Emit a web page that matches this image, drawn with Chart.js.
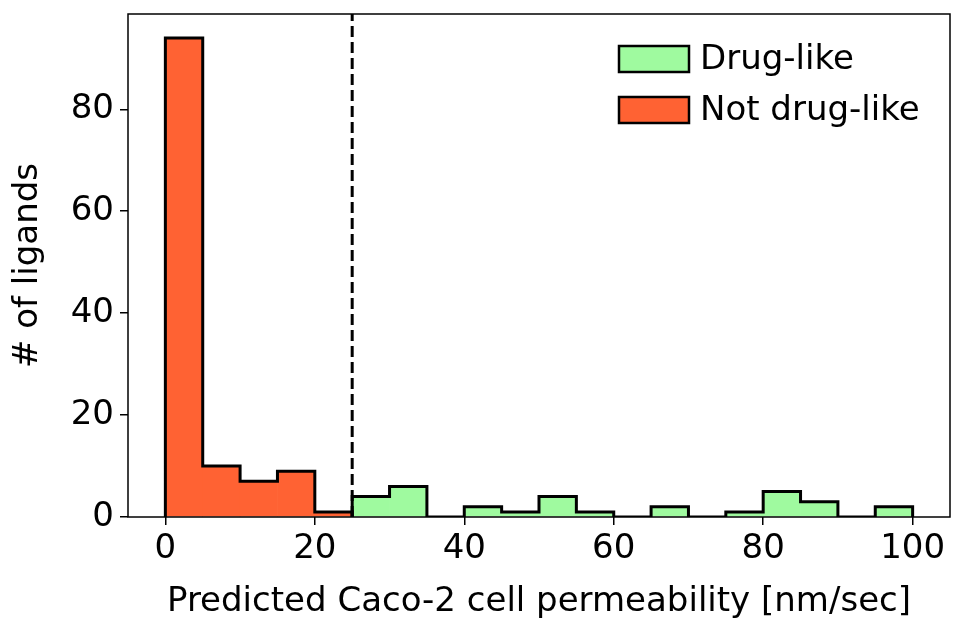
<!DOCTYPE html>
<html>
<head>
<meta charset="utf-8">
<script src="https://cdn.jsdelivr.net/npm/chart.js@4"></script>
<style>
  body { margin: 0; background: #fff; }
  canvas { display: block; background: #fff; }
</style>
</head>
<body>
<canvas id="histChart" width="953" height="623"></canvas>
<script>
// histogram bins (left edges) and counts
const binWidth = 5;
const notDrugBins = [0, 5, 10, 15, 20];
const notDrugCounts = [94, 10, 7, 9, 1];
const drugBins = [25, 30, 35, 40, 45, 50, 55, 60, 65, 70, 75, 80, 85, 90, 95];
const drugCounts = [4, 6, 0, 2, 1, 4, 1, 0, 2, 0, 1, 5, 3, 0, 2];
const threshold = 25;
const xTicks = [0, 20, 40, 60, 80, 100];
const yTicks = [0, 20, 40, 60, 80];
const seriesLabels = ['Drug-like', 'Not drug-like'];

const orange = '#ff6233';
const green = '#9ffa9f';
const font = 'DejaVu Sans';

function barPoints(bins, counts) {
  return bins.map((b, i) => ({ x: b + binWidth / 2, y: counts[i] }));
}

// outline of a filled step histogram
function outlinePoints(bins, counts) {
  const pts = [{ x: bins[0], y: 0 }];
  bins.forEach((b, i) => pts.push({ x: b, y: counts[i] }));
  pts.push({ x: bins[bins.length - 1] + binWidth, y: 0 });
  return pts;
}

const extras = {
  id: 'extras',
  afterDatasetsDraw(chart) {
    const { ctx, chartArea: a, scales } = chart;
    // threshold line
    const x = scales.x.getPixelForValue(threshold);
    ctx.save();
    ctx.strokeStyle = '#000';
    ctx.lineWidth = 3;
    ctx.setLineDash([11, 5]);
    ctx.beginPath();
    ctx.moveTo(x, a.bottom);
    ctx.lineTo(x, a.top);
    ctx.stroke();
    ctx.restore();
  },
  afterDraw(chart) {
    const { ctx, chartArea: a } = chart;
    ctx.save();
    // axes frame
    ctx.strokeStyle = '#000';
    ctx.lineWidth = 1.5;
    ctx.strokeRect(a.left, a.top, a.right - a.left, a.bottom - a.top);

    // legend
    const items = [
      { label: seriesLabels[0], color: green },
      { label: seriesLabels[1], color: orange }
    ];
    ctx.font = '34px "' + font + '"';
    ctx.textBaseline = 'middle';
    items.forEach((it, i) => {
      const px = a.right - 331;
      const py = a.top + 32 + i * 51;
      ctx.fillStyle = it.color;
      ctx.fillRect(px, py, 70, 26);
      ctx.lineWidth = 2.5;
      ctx.strokeStyle = '#000';
      ctx.strokeRect(px, py, 70, 26);
      ctx.fillStyle = '#000';
      ctx.fillText(it.label, px + 81, py + 14);
    });
    ctx.restore();
  }
};

const tickFont = { family: font, size: 34 };

new Chart(document.getElementById('histChart'), {
  type: 'bar',
  data: {
    datasets: [
      {
        label: seriesLabels[0],
        data: barPoints(drugBins, drugCounts),
        backgroundColor: green,
        borderWidth: 0,
        order: 2
      },
      {
        label: seriesLabels[1],
        data: barPoints(notDrugBins, notDrugCounts),
        backgroundColor: orange,
        borderWidth: 0,
        order: 2
      },
      {
        type: 'line',
        data: outlinePoints(drugBins, drugCounts),
        borderColor: '#000',
        borderWidth: 3,
        stepped: 'before',
        pointRadius: 0,
        fill: false,
        order: 1
      },
      {
        type: 'line',
        data: outlinePoints(notDrugBins, notDrugCounts),
        borderColor: '#000',
        borderWidth: 3,
        stepped: 'before',
        pointRadius: 0,
        fill: false,
        order: 1
      }
    ]
  },
  options: {
    responsive: false,
    animation: false,
    devicePixelRatio: 1,
    layout: { padding: { top: 14, right: 3, left: 0, bottom: 0 } },
    datasets: {
      bar: { barPercentage: 1, categoryPercentage: 1, grouped: false }
    },
    scales: {
      x: {
        type: 'linear',
        min: -5,
        max: 105,
        offset: false,
        afterBuildTicks: s => { s.ticks = xTicks.map(v => ({ value: v })); },
        afterFit: s => { s.height = 106; s.paddingLeft = 0; s.paddingRight = 0; },
        grid: { display: true, offset: false, drawOnChartArea: false, drawTicks: true, tickLength: 8, color: '#000', lineWidth: 1.5 },
        border: { display: false },
        ticks: { font: tickFont, color: '#000', padding: 4, maxRotation: 0 },
        title: { display: true, text: 'Predicted Caco-2 cell permeability [nm/sec]', font: tickFont, color: '#000', padding: { top: 0, bottom: 0 } }
      },
      y: {
        min: 0,
        max: 98.7,
        afterBuildTicks: s => { s.ticks = yTicks.map(v => ({ value: v })); },
        afterFit: s => { s.width = 128; s.paddingTop = 0; s.paddingBottom = 0; },
        grid: { display: true, drawOnChartArea: false, drawTicks: true, tickLength: 8, color: '#000', lineWidth: 1.5 },
        border: { display: false },
        ticks: { font: tickFont, color: '#000', padding: 6 },
        title: { display: true, text: '# of ligands', font: tickFont, color: '#000', padding: { top: 8, bottom: 0 } }
      }
    },
    plugins: {
      legend: { display: false },
      tooltip: { enabled: false }
    }
  },
  plugins: [extras]
});
</script>
</body>
</html>
